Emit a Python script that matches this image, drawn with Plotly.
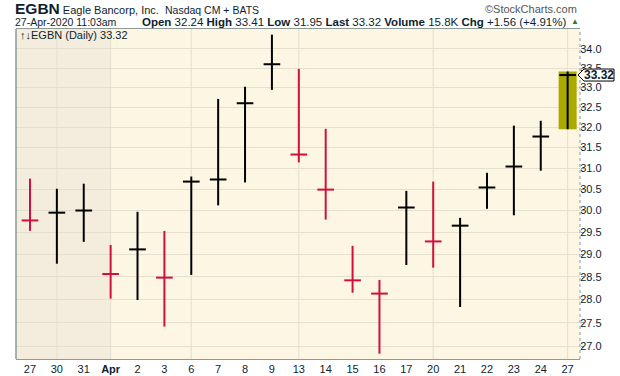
import math
import plotly.graph_objects as go

# ---------------- data ----------------
dates = ["27", "30", "31", "Apr", "2", "3", "6", "7", "8", "9", "13", "14",
         "15", "16", "17", "20", "21", "22", "23", "24", "27"]
high = [30.75, 30.51, 30.63, 29.21, 29.97, 29.53, 30.80, 32.71, 33.02, 34.38, 33.48,
        31.96, 29.19, 28.43, 30.46, 30.68, 29.83, 30.89, 32.04, 32.16, 33.41]
low = [29.53, 28.79, 29.28, 28.02, 27.99, 27.42, 28.54, 30.12, 30.66, 32.94, 31.14,
       29.79, 28.15, 26.85, 28.76, 28.70, 27.84, 30.04, 29.89, 30.94, 31.95]
close = [29.77, 29.95, 30.00, 28.56, 29.11, 28.48, 30.68, 30.73, 32.60, 33.60, 31.33,
         30.49, 28.42, 28.13, 30.07, 29.29, 29.65, 30.54, 31.04, 31.77, 33.32]
prior_close = 30.20          # close of the session before the first bar (estimated)
week_start_idx = [1, 3, 6, 10, 15, 20]   # Mar 30, Apr 1, Apr 6, Apr 13, Apr 20, Apr 27
y_ticks = [27.0, 27.5, 28.0, 28.5, 29.0, 29.5, 30.0, 30.5, 31.0, 31.5, 32.0, 32.5,
           33.0, 33.5, 34.0]
y_tick_text = ["27.0", "27.5", "28.0", "28.5", "29.0", "29.5", "30.0", "30.5", "31.0",
               "31.5", "32.0", "32.5", "33.0", "33.5", "34.0"]
title_symbol = "EGBN"
title_name = "Eagle Bancorp, Inc."
title_exchange = "Nasdaq CM + BATS"
stamp = "27-Apr-2020 11:03am"
quote = {"Open": "32.24", "High": "33.41", "Low": "31.95", "Last": "33.32",
         "Volume": "15.8K", "Chg": "+1.56 (+4.91%)"}

# ---------------- style ----------------
W, H = 620, 376
ML, MR, MT, MB = 16, 40, 29, 17
PW, PH = W - ML - MR, H - MT - MB
RED, BLACK = "#D0103A", "#000000"
TXT = "#0E1E2E"
FONT = "Liberation Sans, Arial, sans-serif"
X_RANGE = [-0.52, 20.46]
Y_MIN, Y_MAX = 26.74, 34.53
HALF = 0.31

def pxx(px):
    return (px - ML) / PW

def pxy(py):
    return (H - MB - py) / PH

n = len(dates)
x = list(range(n))
prev = [prior_close] + close[:-1]

fig = go.Figure()

# highlight box of the latest bar
i = n - 1
fig.add_trace(go.Scatter(
    x=[i - 0.335, i + 0.335, i + 0.335, i - 0.335, i - 0.335],
    y=[low[i], low[i], high[i], high[i], low[i]],
    fill="toself", fillcolor="#A9A900", mode="lines", line=dict(width=0),
    hoverinfo="skip", showlegend=False))

for color, up in ((BLACK, True), (RED, False)):
    xs, ys = [], []
    for k in range(n):
        if (close[k] >= prev[k]) != up:
            continue
        xs += [k, k, None, k - HALF, k + HALF, None]
        ys += [low[k], high[k], None, close[k], close[k], None]
    fig.add_trace(go.Scatter(x=xs, y=ys, mode="lines",
                             line=dict(color=color, width=2),
                             hoverinfo="skip", showlegend=False))

shapes = []
shapes.append(dict(type="rect", xref="x", yref="paper", x0=X_RANGE[0],
                   x1=dates.index("Apr"), y0=0, y1=1, fillcolor="#F4EDDE",
                   line=dict(width=0), layer="below"))
for k in week_start_idx:
    shapes.append(dict(type="line", xref="x", yref="paper", x0=k, x1=k, y0=0, y1=1,
                       line=dict(color="#E4DFCF", width=1), layer="below"))
shapes.append(dict(type="line", xref="paper", yref="paper", x0=0, x1=0, y0=0, y1=1,
                   line=dict(color="#8C9A9A", width=1.5)))
shapes.append(dict(type="line", xref="paper", yref="paper", x0=1, x1=1, y0=0, y1=1,
                   line=dict(color="#8C9A9A", width=1, dash="dot")))

# last price tag (pentagon)
ly0, ly1 = math.log10(Y_MIN), math.log10(Y_MAX)
yl = (math.log10(close[-1]) - ly0) / (ly1 - ly0)
hh = 6 / PH
xt, xb, xr = pxx(578), pxx(584), pxx(614)
shapes.append(dict(type="path", xref="paper", yref="paper",
                   path=f"M {xt} {yl} L {xb} {yl + hh} L {xr} {yl + hh} L {xr} {yl - hh} L {xb} {yl - hh} Z",
                   fillcolor="white", line=dict(color="black", width=1), layer="above"))

annotations = []
annotations.append(dict(xref="paper", yref="paper", x=(xb + xr) / 2 - 0.5 / PW, y=yl,
                        xanchor="center", yanchor="middle", showarrow=False,
                        text=f"<b>{close[-1]:.2f}</b>",
                        font=dict(family=FONT, size=12, color=TXT)))
annotations.append(dict(xref="paper", yref="paper", x=pxx(18), y=pxy(35),
                        xanchor="left", yanchor="middle", showarrow=False,
                        text=f"↑↓{title_symbol} (Daily) {close[-1]:.2f}",
                        font=dict(family=FONT, size=11, color=TXT)))
annotations.append(dict(xref="paper", yref="paper", x=pxx(13), y=pxy(8.5),
                        xanchor="left", yanchor="middle", showarrow=False,
                        text=(f"<b><span style='font-size:15.5px'>{title_symbol}</span></b> "
                              f"<span style='font-size:11px'>{title_name}</span>  "
                              f"<span style='font-size:10.5px'>{title_exchange}</span>"),
                        font=dict(family=FONT, size=11, color=TXT)))
annotations.append(dict(xref="paper", yref="paper", x=pxx(579), y=pxy(9),
                        xanchor="right", yanchor="middle", showarrow=False,
                        text="©StockCharts.com",
                        font=dict(family=FONT, size=11, color="#555555")))
annotations.append(dict(xref="paper", yref="paper", x=pxx(13), y=pxy(21.5),
                        xanchor="left", yanchor="middle", showarrow=False,
                        text=stamp, font=dict(family=FONT, size=10.5, color=TXT)))
qtext = " ".join(f"<b>{k}</b> {v}" for k, v in quote.items())
annotations.append(dict(xref="paper", yref="paper", x=pxx(568), y=pxy(21.5),
                        xanchor="right", yanchor="middle", showarrow=False,
                        text=qtext, font=dict(family=FONT, size=11.5, color=TXT)))
annotations.append(dict(xref="paper", yref="paper", x=pxx(569), y=pxy(21.5),
                        xanchor="left", yanchor="middle", showarrow=False,
                        text="▲", font=dict(family=FONT, size=8, color="#2E7D32")))

tick_text_x = [f"<b>{d}</b>" if d == "Apr" else d for d in dates]

fig.update_layout(
    width=W, height=H, margin=dict(l=ML, r=MR, t=MT, b=MB, autoexpand=False),
    paper_bgcolor="white", plot_bgcolor="#FDF6E3",
    shapes=shapes, annotations=annotations, showlegend=False,
    font=dict(family=FONT, size=11, color=TXT),
    xaxis=dict(range=X_RANGE, tickvals=x, ticktext=tick_text_x, showgrid=False,
               zeroline=False, showline=True, mirror=True, linecolor="#8C9A9A",
               linewidth=1, ticks="", tickfont=dict(size=11, color=TXT),
               automargin=False, fixedrange=True),
    yaxis=dict(type="log", range=[ly0, ly1], side="right", tickvals=y_ticks,
               ticktext=y_tick_text, showgrid=True, gridcolor="#E4DFCF", gridwidth=1,
               zeroline=False, showline=False, ticks="outside", ticklen=3,
               tickcolor="#8C9A9A", tickfont=dict(size=11, color=TXT),
               ticklabelstandoff=-6, automargin=False, fixedrange=True),
)

fig.write_html("out.html", config={"displayModeBar": False},
               post_script="document.body.style.margin='0';document.body.style.overflow='hidden';")
